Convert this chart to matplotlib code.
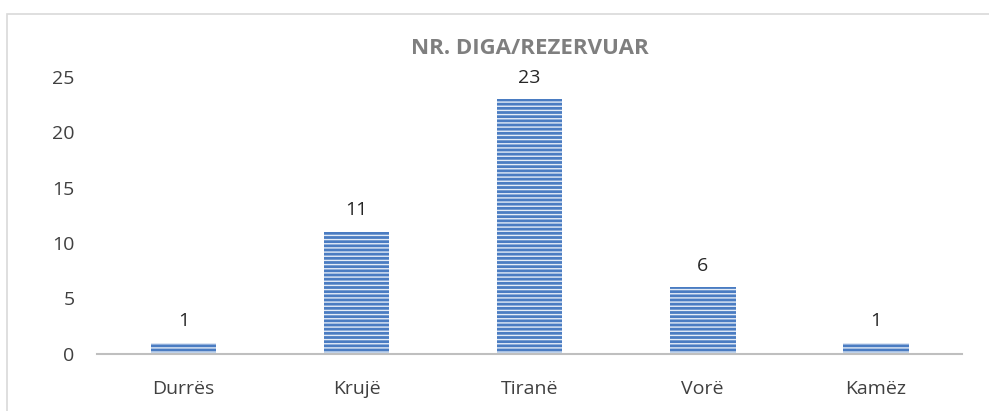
import matplotlib
matplotlib.use("Agg")
import matplotlib.pyplot as plt
from matplotlib.patches import Rectangle

categories = ["Durrës", "Krujë", "Tiranë", "Vorë", "Kamëz"]
values = [1, 11, 23, 6, 1]
yticks = [0, 5, 10, 15, 20, 25]
title = "NR. DIGA/REZERVUAR"

plt.rcParams['font.family'] = ['Open Sans', 'DejaVu Sans']
plt.rcParams['hatch.color'] = '#e4ecf7'
plt.rcParams['hatch.linewidth'] = 1.0

fig = plt.figure(figsize=(9.89, 4.11), dpi=100)
fig.patches.append(Rectangle((7/989, -0.05), 1.0, 1 - 14/411 + 0.05,
                             transform=fig.transFigure, fill=False,
                             edgecolor='#d9d9d9', linewidth=1.2))
ax = fig.add_axes([0.098, 0.139, 0.875, 0.674])
x = range(len(categories))
bars = ax.bar(x, values, width=0.38, color='#4a7cc2', hatch='----', linewidth=0)
ax.set_xlim(-0.5, len(categories) - 0.5)
ax.set_ylim(0, 25)
ax.set_yticks(yticks)
ax.set_xticks(list(x))
ax.set_xticklabels(categories)
for s in ['top', 'right', 'left']:
    ax.spines[s].set_visible(False)
ax.spines['bottom'].set_color('#bfbfbf')
ax.spines['bottom'].set_linewidth(1.5)
ax.tick_params(length=0, labelsize=14, colors='#404040')
ax.tick_params(axis='x', pad=19)
ax.tick_params(axis='y', pad=16)
for xi, v in zip(x, values):
    ax.annotate(str(v), (xi, v), xytext=(0, 9), textcoords='offset points',
                ha='center', va='bottom', fontsize=14, color='#262626')
fig.text(0.536, 0.882, title, ha='center', va='center', fontsize=16,
         fontweight='bold', color='#7f7f7f')
fig.savefig("out.png", dpi=100)
